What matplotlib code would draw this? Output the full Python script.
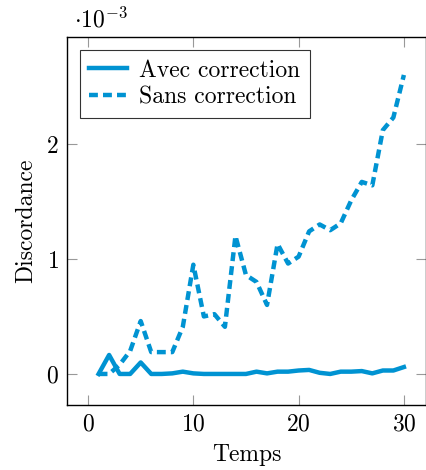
import matplotlib
import matplotlib.pyplot as plt

matplotlib.use("Agg")

# values in units of 1e-3
temps = list(range(1, 31))
avec_correction = [0.0, 0.165, 0.0, 0.0, 0.1, 0.0, 0.0, 0.005, 0.02, 0.005,
                   0.0, 0.0, 0.0, 0.0, 0.0, 0.02, 0.005, 0.02, 0.02, 0.03,
                   0.035, 0.01, 0.0, 0.02, 0.02, 0.025, 0.005, 0.03, 0.03, 0.06]
sans_correction = [0.0, 0.0, 0.08, 0.2, 0.46, 0.19, 0.19, 0.19, 0.41, 0.95,
                   0.5, 0.52, 0.41, 1.2, 0.86, 0.8, 0.6, 1.13, 0.96, 1.02,
                   1.24, 1.3, 1.25, 1.31, 1.51, 1.67, 1.64, 2.12, 2.23, 2.6]
series_labels = ["Avec correction", "Sans correction"]
x_ticks = [0, 10, 20, 30]
y_ticks = [0, 1, 2]

BLUE = "#0093d2"
FS = 17

plt.rcParams["font.family"] = "cmr10"
plt.rcParams["mathtext.fontset"] = "cm"
plt.rcParams["axes.formatter.use_mathtext"] = True

fig = plt.figure(figsize=(4.27, 4.70), dpi=100)
ax = fig.add_axes([67 / 427, 65 / 470, 359 / 427, 368 / 470])

ax.plot(temps, avec_correction, color=BLUE, lw=3.2, label=series_labels[0])
ax.plot(temps, sans_correction, color=BLUE, lw=3.2, ls=(0, (2.0, 1.15)),
        label=series_labels[1])

ax.set_xlim(-2, 32.1)
ax.set_ylim(-0.27, 2.93)
ax.set_xticks(x_ticks)
ax.set_yticks(y_ticks)
ax.tick_params(direction="in", length=7, width=0.8, color="#999999",
               top=True, right=True, labelsize=FS, pad=6)
for s in ax.spines.values():
    s.set_linewidth(1.0)

ax.set_xlabel("Temps", fontsize=FS, labelpad=6)
ax.set_ylabel("Discordance", fontsize=FS, labelpad=6)
ax.text(0.02, 1.012, r"$\cdot 10^{-3}$", transform=ax.transAxes,
        fontsize=FS, ha="left", va="bottom")

leg = ax.legend(loc="upper left", fontsize=FS, frameon=True, fancybox=False,
                edgecolor="black", borderpad=0.4, handlelength=1.6,
                labelspacing=0.2, borderaxespad=0.55, handletextpad=0.5)
leg.get_frame().set_linewidth(0.8)

fig.savefig("out.png", dpi=100)
